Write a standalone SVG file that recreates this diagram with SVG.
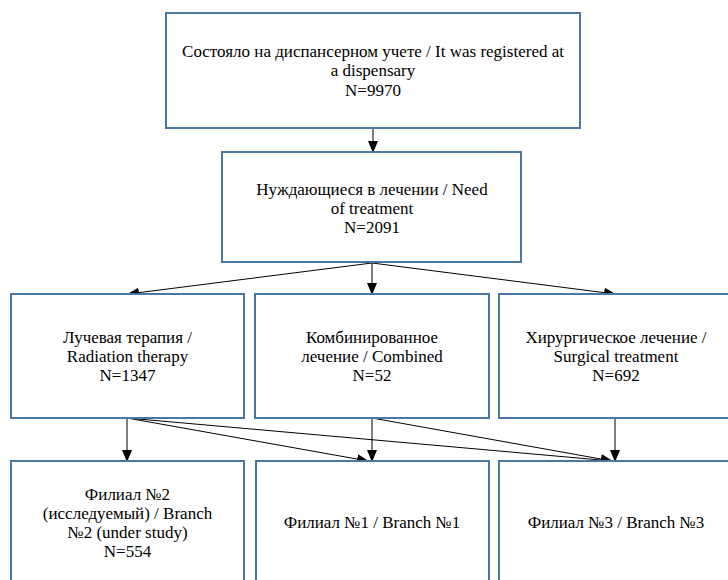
<svg xmlns="http://www.w3.org/2000/svg" width="728" height="580" viewBox="0 0 728 580">
<style>
.box{fill:#ffffff;stroke:#4a76a8;stroke-width:2}
.t{font-family:'Liberation Serif','Times New Roman',serif;font-size:17px;fill:#000;text-anchor:middle}
.c{stroke:#000;stroke-width:1;fill:none;marker-end:url(#ah)}
</style>
<defs>
<marker id="ah" markerWidth="12" markerHeight="10" refX="11" refY="5" orient="auto" markerUnits="userSpaceOnUse">
<path d="M0,0 L12,5 L0,10 Z" fill="#000"/>
</marker>
</defs>
<rect width="728" height="580" fill="#ffffff"/>
<g id="connectors">
<line class="c" x1="373" y1="128" x2="373" y2="152"/>
<line class="c" x1="372" y1="263" x2="128" y2="294"/>
<line class="c" x1="372" y1="263" x2="372" y2="294"/>
<line class="c" x1="372" y1="263" x2="615" y2="294"/>
<line class="c" x1="127" y1="418" x2="127" y2="461"/>
<line class="c" x1="127" y1="418" x2="368" y2="461"/>
<line class="c" x1="127" y1="418" x2="612" y2="461"/>
<line class="c" x1="372" y1="418" x2="372" y2="461"/>
<line class="c" x1="372" y1="418" x2="612" y2="461"/>
<line class="c" x1="615" y1="418" x2="615" y2="461"/>
</g>
<g id="n1">
<rect class="box" x="166" y="13" width="414" height="115"/>
<text class="t" x="373" y="57">Состояло на диспансерном учете / It was registered at</text>
<text class="t" x="373" y="76">a dispensary</text>
<text class="t" x="373" y="96">N=9970</text>
</g>
<g id="n2">
<rect class="box" x="222" y="152" width="299" height="110"/>
<text class="t" x="372" y="195">Нуждающиеся в лечении / Need</text>
<text class="t" x="372" y="214">of treatment</text>
<text class="t" x="372" y="233">N=2091</text>
</g>
<g id="n3">
<rect class="box" x="11" y="294" width="233" height="124"/>
<text class="t" x="127.5" y="343">Лучевая терапия /</text>
<text class="t" x="127.5" y="362">Radiation therapy</text>
<text class="t" x="127.5" y="381">N=1347</text>
</g>
<g id="n4">
<rect class="box" x="255" y="294" width="234" height="124"/>
<text class="t" x="372" y="343">Комбинированное</text>
<text class="t" x="372" y="362">лечение / Combined</text>
<text class="t" x="372" y="381">N=52</text>
</g>
<g id="n5">
<rect class="box" x="499" y="294" width="234" height="124"/>
<text class="t" x="616" y="343">Хирургическое лечение /</text>
<text class="t" x="616" y="362">Surgical treatment</text>
<text class="t" x="616" y="381">N=692</text>
</g>
<g id="n6">
<rect class="box" x="11" y="461" width="233" height="130"/>
<text class="t" x="127.5" y="500">Филиал №2</text>
<text class="t" x="127.5" y="519">(исследуемый) / Branch</text>
<text class="t" x="127.5" y="538">№2 (under study)</text>
<text class="t" x="127.5" y="557">N=554</text>
</g>
<g id="n7">
<rect class="box" x="256" y="461" width="233" height="130"/>
<text class="t" x="372" y="528">Филиал №1 / Branch №1</text>
</g>
<g id="n8">
<rect class="box" x="499" y="461" width="234" height="130"/>
<text class="t" x="616" y="528">Филиал №3 / Branch №3</text>
</g>
</svg>
